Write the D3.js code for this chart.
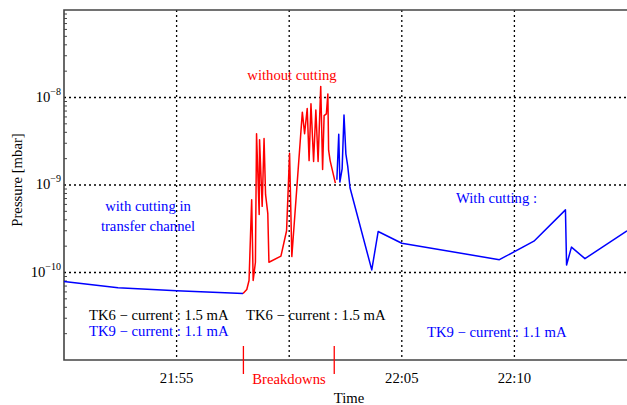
<!DOCTYPE html>
<html>
<head>
<meta charset="utf-8">
<script src="https://cdn.jsdelivr.net/npm/d3@7"></script>
<style>
	body { margin: 0; background: #fff; }
	svg { display: block; font-family: "Liberation Serif", "DejaVu Serif", serif; }
</style>
</head>
<body>
<div id="chart"></div>
<script>
	// blue trace before the breakdowns (with cutting in transfer channel)
	var blueBeforeTimes = ["21:50:00", "21:52:24", "21:55:00", "21:57:57"];
	var blueBeforeValues = [7.9e-11, 6.7e-11, 6.2e-11, 5.75e-11];

	// red trace (without cutting)
	var redTimes = ["21:57:57", "21:58:07", "21:58:13", "21:58:20", "21:58:24", "21:58:30", "21:58:33",
		"21:58:40", "21:58:41", "21:58:48", "21:58:53", "21:58:57", "21:59:03", "21:59:06", "21:59:38",
		"21:59:53", "22:00:01", "22:00:07", "22:00:35", "22:00:41", "22:00:48", "22:00:53", "22:00:58",
		"22:01:05", "22:01:11", "22:01:17", "22:01:24", "22:01:29", "22:01:33", "22:01:39", "22:01:43",
		"22:01:45", "22:01:49", "22:02:03"];
	var redValues = [5.75e-11, 6.4e-11, 8.1e-11, 6.8e-10, 8.1e-11, 1.31e-10, 3.85e-9,
		4.6e-10, 3.3e-9, 5.7e-10, 3.4e-9, 7.8e-10, 4.7e-10, 1.31e-10, 1.54e-10,
		3.0e-10, 2.3e-9, 1.52e-10, 6.8e-9, 3.85e-9, 7.5e-9, 1.9e-9, 8.5e-9,
		1.86e-9, 7.2e-9, 1.86e-9, 1.34e-8, 1.5e-9, 6.2e-9, 6.5e-9, 1.1e-8,
		2.5e-9, 1.9e-9, 1.05e-9];

	// blue trace after the breakdowns (with cutting)
	var blueAfterTimes = ["22:02:07", "22:02:12", "22:02:15", "22:02:21", "22:02:26", "22:02:31", "22:02:36",
		"22:02:42", "22:03:40", "22:03:57", "22:05:00", "22:09:20", "22:10:52", "22:12:16", "22:12:19",
		"22:12:32", "22:13:08", "22:15:00"];
	var blueAfterValues = [1.15e-9, 3.8e-9, 1.08e-9, 1.53e-9, 6.3e-9, 2.27e-9, 1.63e-9,
		9.3e-10, 1.07e-10, 2.94e-10, 2.16e-10, 1.4e-10, 2.28e-10, 5.2e-10, 1.22e-10,
		1.95e-10, 1.44e-10, 3.0e-10];

	var breakdownTimes = ["21:57:58", "22:02:00"];

	var xTickLabels = ["21:55", "22:00", "22:05", "22:10"];
	var xTickShown = [true, false, true, true];
	var yTickExponents = [-8, -9, -10];

	var width = 627, height = 405;
	var margin = {top: 10, right: 0, bottom: 45, left: 64};
	var fs = 14.7;

	var parse = d3.timeParse("%H:%M:%S");
	var parseHM = d3.timeParse("%H:%M");

	var x = d3.scaleTime()
		.domain([parseHM("21:50"), parseHM("22:15")])
		.range([margin.left, width - margin.right]);
	var y = d3.scaleLog()
		.domain([1e-11, 1e-7])
		.range([height - margin.bottom, margin.top]);

	var svg = d3.select("#chart")
		.append("svg")
		.attr("width", width)
		.attr("height", height);

	// dotted grid
	svg.append("g").selectAll("line")
		.data(xTickLabels)
		.enter()
		.append("line")
		.attr("x1", function(d){ return x(parseHM(d)); })
		.attr("x2", function(d){ return x(parseHM(d)); })
		.attr("y1", y.range()[1])
		.attr("y2", y.range()[0])
		.attr("stroke", "#000")
		.attr("stroke-width", 1.3)
		.attr("stroke-dasharray", "2,3");

	svg.append("g").selectAll("line")
		.data(yTickExponents)
		.enter()
		.append("line")
		.attr("x1", x.range()[0])
		.attr("x2", x.range()[1])
		.attr("y1", function(d){ return y(Math.pow(10, d)); })
		.attr("y2", function(d){ return y(Math.pow(10, d)); })
		.attr("stroke", "#000")
		.attr("stroke-width", 1.3)
		.attr("stroke-dasharray", "2,3");

	// minor ticks on the left axis
	var minor = [];
	for (var e = -11; e < -7; e++) {
		for (var k = 2; k <= 9; k++) minor.push(k * Math.pow(10, e));
	}
	svg.append("g").selectAll("line")
		.data(minor)
		.enter()
		.append("line")
		.attr("x1", margin.left)
		.attr("x2", margin.left + 3)
		.attr("y1", function(d){ return y(d); })
		.attr("y2", function(d){ return y(d); })
		.attr("stroke", "#444")
		.attr("stroke-width", 1);

	// frame (no right edge, it runs off the page)
	var frame = svg.append("g").attr("stroke", "#444").attr("stroke-width", 1.6).attr("fill", "none");
	frame.append("path")
		.attr("d", "M" + (width + 2) + "," + y.range()[1] + "H" + margin.left + "V" + y.range()[0] + "H" + (width + 2));

	var line = d3.line()
		.x(function(d){ return x(parse(d[0])); })
		.y(function(d){ return y(d[1]); });

	function drawTrace(times, values, color) {
		svg.append("path")
			.datum(d3.zip(times, values))
			.attr("fill", "none")
			.attr("stroke", color)
			.attr("stroke-width", 1.5)
			.attr("stroke-linejoin", "round")
			.attr("d", line);
	}
	drawTrace(blueBeforeTimes, blueBeforeValues, "#0000ff");
	drawTrace(redTimes, redValues, "#ff0000");
	drawTrace(blueAfterTimes, blueAfterValues, "#0000ff");

	// breakdown markers under the axis
	svg.append("g").selectAll("line")
		.data(breakdownTimes)
		.enter()
		.append("line")
		.attr("x1", function(d){ return x(parse(d)); })
		.attr("x2", function(d){ return x(parse(d)); })
		.attr("y1", 346)
		.attr("y2", 374)
		.attr("stroke", "#ff0000")
		.attr("stroke-width", 1.3);

	// x tick labels
	svg.append("g").selectAll("text")
		.data(xTickLabels.filter(function(d, i){ return xTickShown[i]; }))
		.enter()
		.append("text")
		.attr("x", function(d){ return x(parseHM(d)); })
		.attr("y", 383)
		.attr("text-anchor", "middle")
		.attr("font-size", fs)
		.text(function(d){ return d; });

	// y tick labels with superscript exponents
	var yl = svg.append("g").selectAll("text")
		.data(yTickExponents)
		.enter()
		.append("text")
		.attr("x", 61)
		.attr("y", function(d){ return y(Math.pow(10, d)) + 4; })
		.attr("text-anchor", "end")
		.attr("font-size", fs);
	yl.append("tspan").text("10");
	yl.append("tspan")
		.attr("dy", -7)
		.attr("font-size", 10)
		.text(function(d){ return "\u2212" + Math.abs(d); });

	svg.append("text")
		.attr("x", 349)
		.attr("y", 403)
		.attr("text-anchor", "middle")
		.attr("font-size", fs)
		.text("Time");

	svg.append("text")
		.attr("transform", "translate(22,180) rotate(-90)")
		.attr("text-anchor", "middle")
		.attr("font-size", fs)
		.text("Pressure [mbar]");

	// annotations
	var notes = [
		{t: "without cutting", x: 292, y: 80, c: "#ff0000", a: "middle"},
		{t: "with cutting in", x: 148, y: 211, c: "#0000ff", a: "middle"},
		{t: "transfer channel", x: 148, y: 231, c: "#0000ff", a: "middle"},
		{t: "With cutting :", x: 456, y: 203, c: "#0000ff", a: "start"},
		{t: "TK6 \u2212 current : 1.5 mA", x: 89, y: 320, c: "#000", a: "start"},
		{t: "TK9 \u2212 current : 1.1 mA", x: 89, y: 336, c: "#0000ff", a: "start"},
		{t: "TK6 \u2212 current : 1.5 mA", x: 246, y: 320, c: "#000", a: "start"},
		{t: "TK9 \u2212 current : 1.1 mA", x: 427, y: 337, c: "#0000ff", a: "start"},
		{t: "Breakdowns", x: 289, y: 384, c: "#ff0000", a: "middle"}
	];
	svg.append("g").selectAll("text")
		.data(notes)
		.enter()
		.append("text")
		.attr("x", function(d){ return d.x; })
		.attr("y", function(d){ return d.y; })
		.attr("text-anchor", function(d){ return d.a; })
		.attr("fill", function(d){ return d.c; })
		.attr("font-size", fs)
		.text(function(d){ return d.t; });
</script>
</body>
</html>
